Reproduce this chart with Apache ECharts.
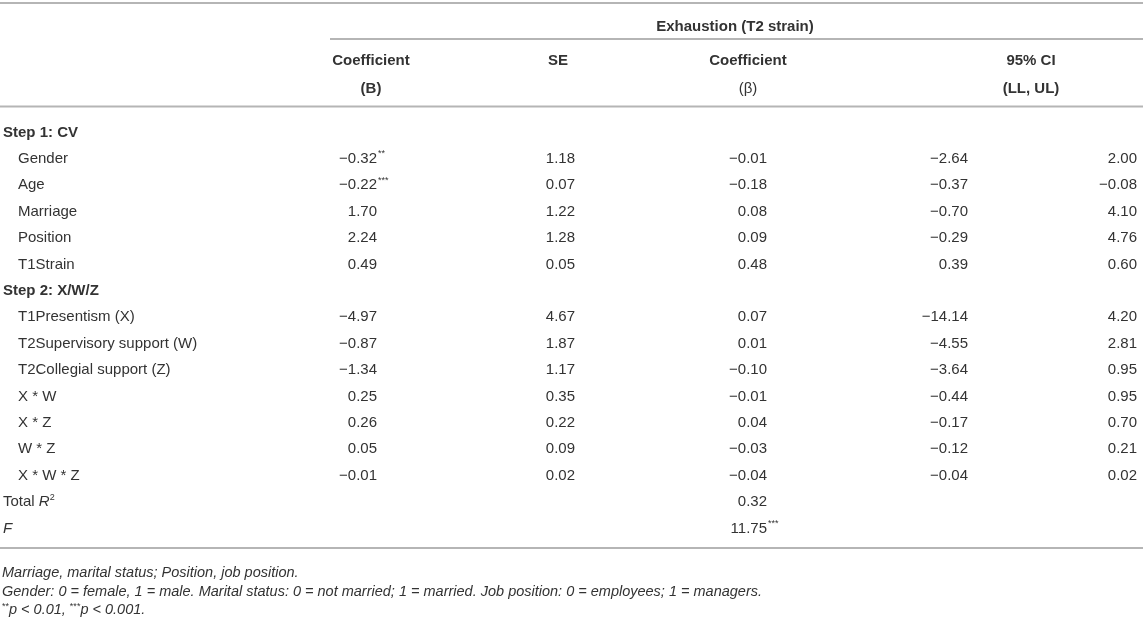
<!DOCTYPE html>
<html lang="en">
<head>
    <meta charset="UTF-8">
    <title>Exhaustion (T2 strain)</title>
    <script src="https://cdn.jsdelivr.net/npm/echarts@6/dist/echarts.min.js"></script>
    <style>
        html, body { margin: 0; padding: 0; background: #fff; }
        #main { width: 1143px; height: 622px; }
    </style>
</head>
<body>
<div id="main"></div>
<script type="text/javascript">
    // table data
    var groups = ['Step 1: CV', 'Step 2: X/W/Z'];
    var cvLabels = ['Gender', 'Age', 'Marriage', 'Position', 'T1Strain'];
    var xwzLabels = ['T1Presentism (X)', 'T2Supervisory support (W)', 'T2Collegial support (Z)',
        'X * W', 'X * Z', 'W * Z', 'X * W * Z'];
    // values in row order: 5 CV rows then 7 X/W/Z rows
    var coefB = [-0.32, -0.22, 1.70, 2.24, 0.49, -4.97, -0.87, -1.34, 0.25, 0.26, 0.05, -0.01];
    var coefBSig = ['**', '***', '', '', '', '', '', '', '', '', '', ''];
    var se = [1.18, 0.07, 1.22, 1.28, 0.05, 4.67, 1.87, 1.17, 0.35, 0.22, 0.09, 0.02];
    var beta = [-0.01, -0.18, 0.08, 0.09, 0.48, 0.07, 0.01, -0.10, -0.01, 0.04, -0.03, -0.04];
    var ciLL = [-2.64, -0.37, -0.70, -0.29, 0.39, -14.14, -4.55, -3.64, -0.44, -0.17, -0.12, -0.04];
    var ciUL = [2.00, -0.08, 4.10, 4.76, 0.60, 4.20, 2.81, 0.95, 0.95, 0.70, 0.21, 0.02];
    var totalR2 = 0.32;
    var fValue = 11.75;
    var fSig = '***';
    var notes = [
        'Marriage, marital status; Position, job position.',
        'Gender: 0 = female, 1 = male. Marital status: 0 = not married; 1 = married. Job position: 0 = employees; 1 = managers.'
    ];

    var FONT = '"Liberation Sans", Arial, Helvetica, sans-serif';
    var INK = '#333333';
    var RULE = '#b5b5b5';
    var NOTE = 14.5;

    // column anchors
    var colB = 377, colSE = 575, colBeta = 767, colLL = 968, colUL = 1137;
    function rowY(i) { return 132.5 + 26.4 * i; }
    function fmt(v) { return (v < 0 ? '\u2212' : '') + Math.abs(v).toFixed(2); }

    var els = [];
    function txt(x, y, s, opt) {
        opt = opt || {};
        els.push({
            type: 'text', x: x, y: y, silent: true,
            style: {
                text: s, fill: INK, font: (opt.italic ? 'italic ' : '') + (opt.bold ? 'bold ' : '') + (opt.size || 15) + 'px ' + FONT,
                align: opt.align || 'left', verticalAlign: 'middle', rich: opt.rich
            }
        });
    }
    function rule(x1, x2, y) {
        els.push({ type: 'line', silent: true, shape: { x1: x1, y1: y, x2: x2, y2: y }, style: { stroke: RULE, lineWidth: 2 } });
    }
    function sup(x, y, s) {
        if (s) txt(x, y - 5, s, { size: 9 });
    }

    // header
    rule(0, 1143, 3);
    txt(735, 26.5, 'Exhaustion (T2 strain)', { bold: true, align: 'center' });
    rule(330, 1143, 39);
    txt(371, 61, 'Coefficient', { bold: true, align: 'center' });
    txt(371, 88.5, '(B)', { bold: true, align: 'center' });
    txt(558, 61, 'SE', { bold: true, align: 'center' });
    txt(748, 61, 'Coefficient', { bold: true, align: 'center' });
    txt(748, 88.5, '(\u03b2)', { align: 'center' });
    txt(1031, 61, '95% CI', { bold: true, align: 'center' });
    txt(1031, 88.5, '(LL, UL)', { bold: true, align: 'center' });
    rule(0, 1143, 106.5);

    // body
    var labels = cvLabels.concat(xwzLabels);
    var r = 0;
    txt(3, rowY(r++), groups[0], { bold: true });
    for (var i = 0; i < labels.length; i++) {
        if (i === cvLabels.length) txt(3, rowY(r++), groups[1], { bold: true });
        var y = rowY(r++);
        txt(18, y, labels[i]);
        txt(colB, y, fmt(coefB[i]), { align: 'right' });
        sup(colB + 1, y, coefBSig[i]);
        txt(colSE, y, fmt(se[i]), { align: 'right' });
        txt(colBeta, y, fmt(beta[i]), { align: 'right' });
        txt(colLL, y, fmt(ciLL[i]), { align: 'right' });
        txt(colUL, y, fmt(ciUL[i]), { align: 'right' });
    }
    var yR = rowY(r++);
    txt(3, yR, '{n|Total }{i|R}{s|2}', {
        rich: {
            n: { font: '15px ' + FONT, fill: INK },
            i: { font: 'italic 15px ' + FONT, fill: INK },
            s: { font: '9px ' + FONT, fill: INK, padding: [0, 0, 9, 0] }
        }
    });
    txt(colBeta, yR, fmt(totalR2), { align: 'right' });
    var yF = rowY(r++);
    txt(3, yF, 'F', { italic: true });
    txt(colBeta, yF, fmt(fValue), { align: 'right' });
    sup(colBeta + 1, yF, fSig);
    rule(0, 1143, 548);

    // footnotes
    txt(2, 572.5, notes[0], { italic: true, size: NOTE });
    txt(2, 591.5, notes[1], { italic: true, size: NOTE });
    txt(2, 610, '{s|**}{t|p < 0.01, }{s|***}{t|p < 0.001.}', {
        rich: {
            t: { font: 'italic ' + NOTE + 'px ' + FONT, fill: INK },
            s: { font: '9px ' + FONT, fill: INK, padding: [0, 0, 7, 0] }
        }
    });

    var chart = echarts.init(document.getElementById('main'), null, { renderer: 'canvas' });
    chart.setOption({
        backgroundColor: '#ffffff',
        animation: false,
        graphic: { elements: els }
    });
</script>
</body>
</html>
